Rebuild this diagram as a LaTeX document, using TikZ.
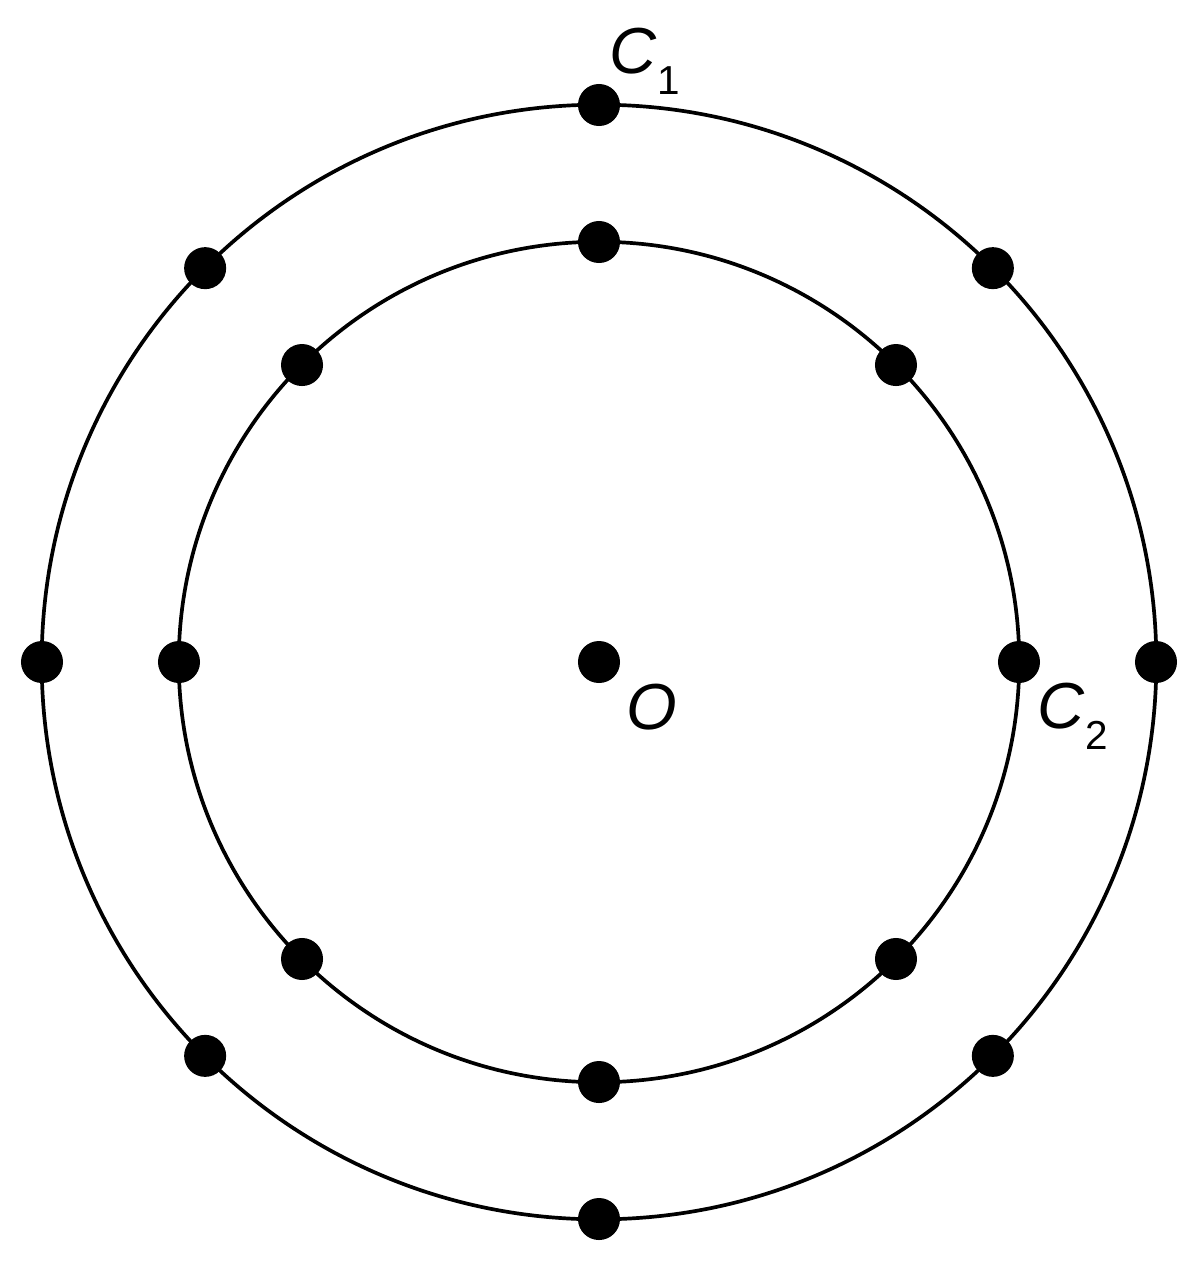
\documentclass[tikz,border=0pt]{standalone}
\usepackage{fontspec}
\setmainfont{Liberation Sans}
\usetikzlibrary{calc}
\begin{document}
\begin{tikzpicture}[x=0.01cm,y=-0.01cm,
  ring/.style={line width=1.05pt},
  dot/.style={circle,fill=black,inner sep=0pt,minimum size=0.42cm},
  lbl/.style={inner sep=0pt,anchor=base west,font=\fontsize{18.5}{18.5}\selectfont}]
\useasboundingbox (0,0) rectangle (1200,1269);
\coordinate (c) at (599,662);
\draw[ring] (c) circle (5.57cm);
\draw[ring] (c) circle (4.20cm);
\node[dot] (O) at (c) {};
\foreach \a in {0,45,...,315}{
  \node[dot] (out\a) at ($(c)+(\a:557)$) {};
  \node[dot] (in\a) at ($(c)+(\a:420)$) {};
}
\node[lbl] (C1) at (609,73) {\textit{C}\raisebox{-6pt}{\fontsize{11.5}{11.5}\selectfont 1}};
\node[lbl] (C2) at (1037,728) {\textit{C}\raisebox{-6pt}{\fontsize{11.5}{11.5}\selectfont 2}};
\node[lbl] (Olbl) at (626,729) {\textit{O}};
\end{tikzpicture}
\end{document}
